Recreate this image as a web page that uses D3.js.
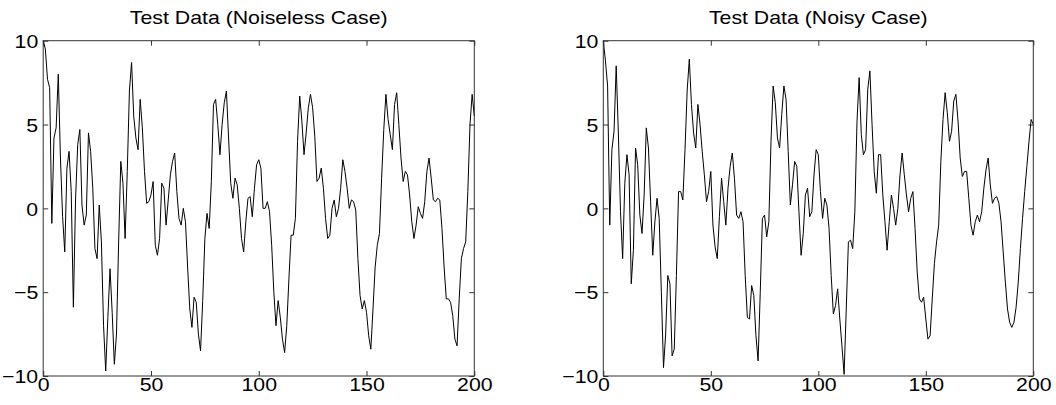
<!DOCTYPE html>
<html>
<head>
<meta charset="utf-8">
<script src="https://cdn.jsdelivr.net/npm/d3@7"></script>
<style>
  html, body { margin: 0; padding: 0; background: #fff; }
  svg { display: block; }
  text { font-family: "Liberation Sans", Arial, sans-serif; fill: #000; }
</style>
</head>
<body>
<svg id="chart" width="1056" height="405"></svg>
<script>
// Sample index runs 0..200; one value per sample.
const titles = ["Test Data (Noiseless Case)", "Test Data (Noisy Case)"];
const xTicks = [0, 50, 100, 150, 200];
const yTicks = [-10, -5, 0, 5, 10];

const noiseless = [
  10.0, 9.5, 7.7, 7.2, -0.9, 4.2, 4.8, 8.0, 3.0, -0.5,
  -2.6, 2.4, 3.4, 1.0, -5.9, 0.5, 3.8, 4.7, 0.2, -1.0,
  -0.4, 4.5, 3.4, 1.2, -2.4, -3.0, 0.2, -2.0, -7.0, -9.7,
  -6.5, -3.6, -6.2, -9.3, -7.5, -2.0, 2.8, 1.5, -1.8, 2.2,
  7.0, 8.7, 5.5, 4.2, 3.5, 6.5, 4.8, 2.2, 0.3, 0.4,
  0.8, 1.6, -2.2, -2.8, -1.8, 1.5, 1.2, -1.0, 0.5, 2.0,
  2.8, 3.3, 1.0, -0.6, -1.0, 0.0, -0.8, -3.5, -6.0, -7.1,
  -5.3, -5.6, -7.5, -8.5, -5.5, -1.8, -0.3, -1.2, 1.6, 6.2,
  6.5, 5.0, 3.2, 5.0, 6.3, 7.0, 4.2, 1.5, 0.6, 1.8,
  1.4, 0.0, -1.8, -2.6, -0.8, 0.6, 0.7, -0.5, 1.2, 2.6,
  2.9, 2.4, 0.0, 0.0, 0.4, -0.2, -2.2, -5.0, -7.0, -5.5,
  -6.5, -7.8, -8.6, -7.0, -4.2, -1.6, -1.6, -0.6, 4.0, 6.7,
  5.2, 3.2, 4.5, 6.0, 6.8, 6.0, 4.3, 1.6, 1.8, 2.4,
  1.2, -0.6, -1.8, -1.6, 0.0, 0.5, -0.5, 0.0, 1.2, 2.9,
  2.2, 1.2, 0.0, 0.5, 0.4, -0.1, -3.0, -5.2, -6.0, -5.5,
  -6.2, -7.6, -8.4, -6.0, -3.5, -2.2, -1.5, 1.8, 4.7, 6.8,
  5.3, 4.4, 3.5, 6.2, 6.9, 5.0, 3.0, 1.6, 2.2, 2.0,
  0.8, -0.8, -1.8, -1.0, 0.1, -0.3, -0.6, 0.4, 2.2, 3.0,
  1.8, 0.5, 0.4, 0.6, 0.5, -1.2, -3.5, -5.4, -5.4, -5.6,
  -6.4, -7.8, -8.2, -5.4, -3.0, -2.4, -2.0, 1.0, 5.0, 6.8,
  5.5
];

const noisy = [
  10.0, 8.8, 7.3, -1.0, 3.5, 4.6, 8.5, 4.5, -0.2, -3.0,
  1.5, 3.2, 2.0, -4.5, -2.5, 3.6, 2.6, -0.4, -1.5, 0.8,
  4.8, 3.6, 0.4, -2.8, -0.8, 0.6, -0.6, -5.0, -9.5, -7.5,
  -4.0, -4.5, -8.8, -8.4, -4.0, 1.0, 1.0, 0.5, 3.5, 7.0,
  8.9, 6.2, 4.5, 3.6, 6.2, 5.0, 3.4, 2.0, 0.4, 1.0,
  2.2, -1.0, -2.3, -3.0, -0.5, 1.8, 0.4, -1.0, 1.2, 2.5,
  3.3, 1.8, -0.4, -0.6, -0.2, -0.8, -4.0, -6.5, -6.6, -4.6,
  -5.2, -7.6, -9.1, -5.0, -0.6, -0.4, -1.7, -0.8, 4.0, 7.3,
  6.3, 4.2, 3.6, 5.6, 7.3, 6.5, 3.4, 0.2, 1.4, 2.8,
  2.5, -0.2, -2.8, -1.5, 0.8, 1.2, -0.5, -0.2, 2.0, 3.5,
  3.2, 1.0, -0.6, 0.6, 0.2, -1.2, -4.0, -6.3, -5.8, -4.8,
  -6.6, -8.2, -9.9, -6.0, -2.0, -1.9, -2.4, -0.2, 5.2, 7.8,
  4.4, 3.2, 3.5, 7.1, 8.2, 5.0, 2.2, 0.9, 3.2, 3.2,
  0.8, -0.8, -2.5, -0.8, 0.8, 0.0, -1.0, 0.0, 2.0, 3.3,
  2.0, 0.8, -0.2, 0.6, 1.0, -1.2, -3.8, -5.4, -5.6, -5.3,
  -6.6, -7.8, -7.6, -5.4, -3.3, -2.0, -1.0, 2.8, 5.3, 6.9,
  5.7, 4.0, 4.6, 6.4, 6.8, 5.2, 3.0, 1.9, 2.2, 2.2,
  0.6, -1.0, -1.6, -0.8, -0.4, -0.8, -0.2, 1.2, 2.3, 3.0,
  1.4, 0.3, 0.6, 0.7, 0.3, -0.8, -2.6, -4.4, -6.0, -6.8,
  -7.1, -6.8, -5.9, -4.4, -2.4, -0.6, 1.0, 2.5, 4.0, 5.3,
  5.0
];

const svg = d3.select("#chart");

// Two side-by-side panels sharing the same value range.
const panels = [
  { left: 43.2, right: 474.3, series: noiseless, title: titles[0] },
  { left: 603.3, right: 1033.3, series: noisy, title: titles[1] }
];
const plotTop = 40.7, plotBottom = 376;
const tickLen = 5;
const fontSize = 18.5;
const widen = 1.15;   // glyphs are drawn slightly wider than the stock face

// Stretch a text element horizontally, keeping its anchor.
function stretch(sel) {
  sel.each(function () {
    const w = this.getComputedTextLength();
    if (w > 0) {
      this.setAttribute("textLength", w * widen);
      this.setAttribute("lengthAdjust", "spacingAndGlyphs");
    }
  });
}

panels.forEach(p => {
  const x = d3.scaleLinear().domain([0, 200]).range([p.left, p.right]);
  const y = d3.scaleLinear().domain([-10, 10]).range([plotBottom, plotTop]);
  const g = svg.append("g");

  // Title
  g.append("text")
    .attr("x", (p.left + p.right) / 2)
    .attr("y", 24)
    .attr("text-anchor", "middle")
    .style("font-size", fontSize + "px")
    .text(p.title)
    .call(stretch);

  // Bottom axis with labels, ticks pointing inward
  const xb = g.append("g")
    .attr("transform", `translate(0,${plotBottom})`)
    .call(d3.axisBottom(x).tickValues(xTicks).tickFormat(d3.format("d"))
      .tickSizeInner(-tickLen).tickSizeOuter(0).tickPadding(2));
  // Left axis with labels
  const yl = g.append("g")
    .attr("transform", `translate(${p.left},0)`)
    .call(d3.axisLeft(y).tickValues(yTicks).tickFormat(d3.format("d"))
      .tickSizeInner(-tickLen).tickSizeOuter(0).tickPadding(5));
  // Top and right: ticks only
  const xt = g.append("g")
    .attr("transform", `translate(0,${plotTop})`)
    .call(d3.axisTop(x).tickValues(xTicks).tickFormat("")
      .tickSizeInner(-tickLen).tickSizeOuter(0));
  const yr = g.append("g")
    .attr("transform", `translate(${p.right},0)`)
    .call(d3.axisRight(y).tickValues(yTicks).tickFormat("")
      .tickSizeInner(-tickLen).tickSizeOuter(0));

  [xb, yl, xt, yr].forEach(a => {
    a.select(".domain").remove();
    a.selectAll("line").attr("stroke", "#333").attr("stroke-width", 1);
    a.selectAll("text")
      .style("font-size", fontSize + "px")
      .style("font-family", '"Liberation Sans", Arial, sans-serif')
      .attr("fill", "#000");
  });
  xb.selectAll("text").attr("y", 15).attr("dy", 0);
  yl.selectAll("text").attr("dy", "0.36em");
  xb.selectAll("text").call(stretch);
  yl.selectAll("text").call(stretch);

  // Data line
  const line = d3.line()
    .x((d, i) => x(i))
    .y(d => y(d));
  g.append("path")
    .datum(p.series)
    .attr("fill", "none")
    .attr("stroke", "#000")
    .attr("stroke-width", 1)
    .attr("stroke-linejoin", "round")
    .attr("d", line);

  // Axes box
  g.append("rect")
    .attr("x", p.left).attr("y", plotTop)
    .attr("width", p.right - p.left).attr("height", plotBottom - plotTop)
    .attr("fill", "none")
    .attr("stroke", "#333")
    .attr("stroke-width", 1);
});
</script>
</body>
</html>
